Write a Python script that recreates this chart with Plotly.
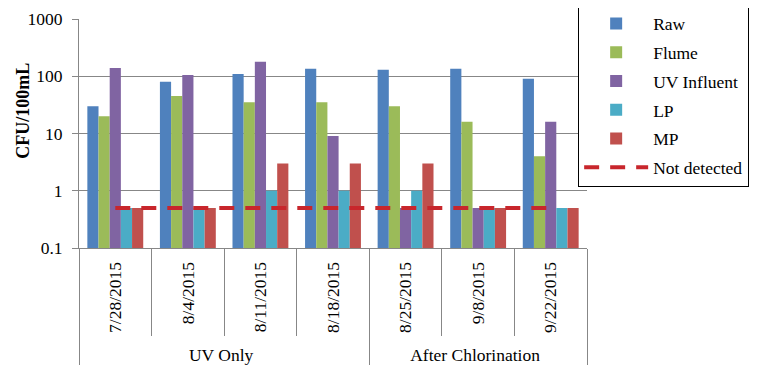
import plotly.graph_objects as go

groups = ["UV Only"] * 4 + ["After Chlorination"] * 3
dates = ["7/28/2015", "8/4/2015", "8/11/2015", "8/18/2015", "8/25/2015", "9/8/2015", "9/22/2015"]

raw = [30, 80, 110, 135, 130, 135, 90]
flume = [20, 45, 35, 35, 30, 16, 4]
uv_influent = [140, 105, 180, 9, 0.5, 0.5, 16]
lp = [0.5, 0.5, 1, 1, 1, 0.5, 0.5]
mp = [0.5, 0.5, 3, 3, 3, 0.5, 0.5]
not_detected = [0.5] * 7

series = [
    ("Raw", raw, "#4F81BD"),
    ("Flume", flume, "#9BBB59"),
    ("UV Influent", uv_influent, "#8064A2"),
    ("LP", lp, "#4BACC6"),
    ("MP", mp, "#C0504D"),
]

x = [groups, dates]
font = "Liberation Serif"

fig = go.Figure()
for name, vals, color in series:
    fig.add_trace(go.Bar(x=x, y=vals, name=name, marker=dict(color=color, line=dict(width=0)),
                         legendgroup=name))
fig.add_trace(go.Scatter(x=x, y=not_detected, name="Not detected", mode="lines",
                         line=dict(color="#C8262C", width=4, dash="15px,11px"),
                         legendgroup="nd"))

# page has an 8px body margin, so the figure is sized/offset to compensate
fig.update_layout(
    width=757, height=374,
    margin=dict(l=71, r=178, t=11, b=134, autoexpand=False),
    paper_bgcolor="white", plot_bgcolor="white",
    barmode="group", bargap=0.23, bargroupgap=0,
    font=dict(family=font, size=17, color="black"),
    showlegend=True,
    legend=dict(x=0.982, xanchor="left", y=0.265, yanchor="bottom",
                bgcolor="white", bordercolor="black", borderwidth=1.3,
                font=dict(family=font, size=17.5, color="black"), traceorder="grouped",
                tracegroupgap=3, itemwidth=64),
    annotations=[dict(text="<b>CFU/100mL</b>", xref="paper", yref="paper",
                      x=-0.112, y=0.6, xanchor="center", yanchor="middle",
                      textangle=-90, showarrow=False,
                      font=dict(family=font, size=18, color="black"))],
)
fig.update_yaxes(
    type="log", range=[-1, 3], automargin=False,
    tickvals=[0.1, 1, 10, 100, 1000], ticktext=["0.1", "1", "10", "100", "1000"],
    showgrid=True, gridcolor="#878787", gridwidth=1,
    showline=True, linecolor="#878787", linewidth=1,
    ticks="outside", ticklen=6, tickcolor="#878787",
    ticklabelstandoff=6, ticklabeloverflow="allow",
    tickfont=dict(family=font, size=17.5, color="black"),
    zeroline=False,
)
fig.update_xaxes(
    type="multicategory", automargin=False,
    tickangle=-90,
    showline=True, linecolor="#878787", linewidth=1,
    ticks="outside", tickson="boundaries", ticklen=87, tickcolor="#878787",
    ticklabelstandoff=6,
    showdividers=True, dividercolor="#878787", dividerwidth=1,
    tickfont=dict(family=font, size=17.5, color="black"),
    showgrid=False,
)

fig.write_html("out.html")
